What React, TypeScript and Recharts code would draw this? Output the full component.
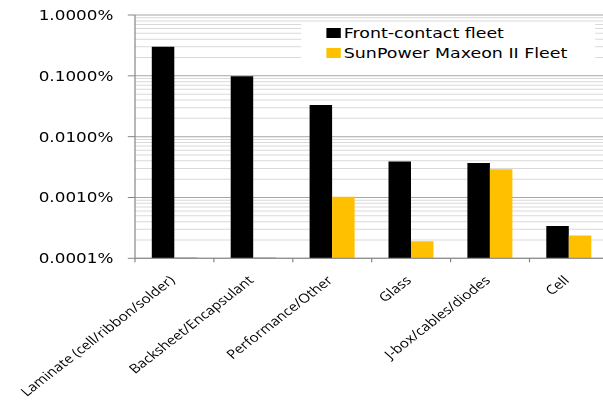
import { BarChart, Bar, XAxis, YAxis, ReferenceLine, Legend } from "recharts";

const categories = [
  "Laminate (cell/ribbon/solder)",
  "Backsheet/Encapsulant",
  "Performance/Other",
  "Glass",
  "J-box/cables/diodes",
  "Cell",
];

// failure rates, in percent
const frontContact = [0.3, 0.098, 0.033, 0.0039, 0.0037, 0.00034];
const maxeon = [0.000105, 0.000105, 0.00103, 0.00019, 0.0029, 0.000236];

const majorTicks = [0.0001, 0.001, 0.01, 0.1, 1];
const minorTicks = [0.0001, 0.001, 0.01, 0.1].flatMap((d) =>
  [2, 3, 4, 5, 6, 7, 8, 9].map((m) => d * m)
);

const seriesNames = ["Front-contact fleet", "SunPower Maxeon II Fleet"];
const seriesColors = ["#000000", "#FFC000"];

const data = categories.map((name, i) => ({
  name,
  front: frontContact[i],
  maxeon: maxeon[i],
}));

// band width of one category in chart units
const BAND = 65.75;

function CategoryTick(props: any) {
  const { x, y, payload, index } = props;
  const ax = x + 1;
  const ay = y + 23;
  return (
    <g>
      <line x1={x - BAND / 2} y1={y} x2={x - BAND / 2} y2={y + 4} stroke="#868686" />
      {index === categories.length - 1 && (
        <line x1={x + BAND / 2} y1={y} x2={x + BAND / 2} y2={y + 4} stroke="#868686" />
      )}
      <text
        x={ax}
        y={ay}
        textAnchor="end"
        transform={`rotate(-43, ${ax}, ${ay})`}
        fontFamily="Open Sans"
        fontSize={12.6}
        fill="#000"
      >
        {payload.value}
      </text>
    </g>
  );
}

function LegendBox() {
  return (
    <div
      style={{
        background: "#fff",
        width: 245,
        height: 52,
        boxSizing: "border-box",
        paddingLeft: 21,
        paddingTop: 1,
        fontFamily: "DejaVu Sans",
        fontSize: 14.5,
        color: "#000",
        textAlign: "left",
      }}
    >
      {seriesNames.map((n, i) => (
        <div key={n} style={{ display: "flex", alignItems: "center", height: 20 }}>
          <span
            style={{
              display: "inline-block",
              width: 12,
              height: 10,
              background: seriesColors[i],
              marginRight: 3,
            }}
          />
          {n}
        </div>
      ))}
    </div>
  );
}

export default function App() {
  return (
    <div
      style={{
        position: "absolute",
        left: 0,
        top: 0,
        width: 603,
        height: 403,
        overflow: "hidden",
        background: "#fff",
      }}
    >
      <div style={{ transform: "scaleX(1.2)", transformOrigin: "0 0", width: 520 }}>
        <BarChart
          width={520}
          height={403}
          data={data}
          margin={{ top: 15, right: 13, bottom: 14.7, left: 12.5 }}
          barSize={18.75}
          barGap={0}
        >
          {minorTicks.map((v) => (
            <ReferenceLine key={"m" + v} y={v} stroke="#d9d9d9" zIndex={-100} />
          ))}
          {majorTicks.map((v) => (
            <ReferenceLine key={"M" + v} y={v} stroke="#a6a6a6" zIndex={-90} />
          ))}
          <XAxis
            dataKey="name"
            height={130}
            interval={0}
            tickLine={false}
            tickSize={0}
            tickMargin={0}
            axisLine={{ stroke: "#868686" }}
            tick={<CategoryTick />}
          />
          <YAxis
            scale="log"
            domain={[0.0001, 1]}
            allowDataOverflow
            ticks={majorTicks}
            width={100}
            tickSize={6}
            tickMargin={12}
            axisLine={{ stroke: "#868686" }}
            tickLine={{ stroke: "#868686" }}
            tickFormatter={(v: number) => v.toFixed(4) + "%"}
            tick={{ fontFamily: "DejaVu Sans", fontSize: 14, fill: "#000" }}
          />
          <Legend
            layout="vertical"
            align="center"
            verticalAlign="middle"
            content={<LegendBox />}
            wrapperStyle={{ position: "absolute", left: 250.5, top: 22, width: 245, height: 52 }}
          />
          <Bar
            dataKey="front"
            name={seriesNames[0]}
            fill={seriesColors[0]}
            isAnimationActive={false}
          />
          <Bar
            dataKey="maxeon"
            name={seriesNames[1]}
            fill={seriesColors[1]}
            isAnimationActive={false}
          />
        </BarChart>
      </div>
    </div>
  );
}
